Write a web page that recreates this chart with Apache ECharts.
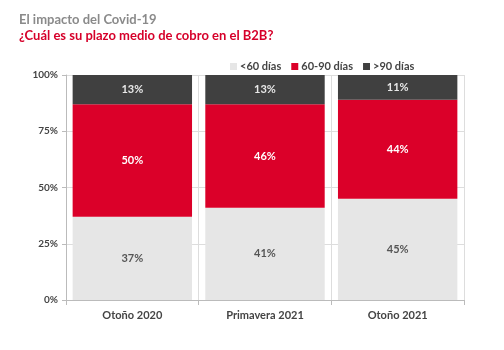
<!DOCTYPE html>
<html>
<head>
<meta charset="utf-8">
<script src="https://cdn.jsdelivr.net/npm/echarts@6/dist/echarts.min.js"></script>
<style>
  html, body { margin: 0; padding: 0; background: #fff; }
  #chart { width: 504px; height: 350px; }
</style>
</head>
<body>
<div id="chart"></div>
<script>
var categories = ['Otoño 2020', 'Primavera 2021', 'Otoño 2021'];
var seriesNames = ['<60 días', '60-90 días', '>90 días'];
var under60 = [37, 41, 45];
var from60to90 = [50, 46, 44];
var over90 = [13, 13, 11];
var yTicks = ['0%', '25%', '50%', '75%', '100%'];

var colors = ['#e6e6e6', '#db0029', '#404040'];
var labelColors = ['#555', '#fff', '#e8e8e8'];
var font = 'Lato, "Open Sans", sans-serif';

var chart = echarts.init(document.getElementById('chart'));

function makeSeries(name, data, i) {
  return {
    name: name,
    type: 'bar',
    stack: 'total',
    barWidth: '90%',
    data: data,
    itemStyle: { color: colors[i] },
    label: {
      show: true,
      position: 'inside',
      formatter: '{c}%',
      color: labelColors[i],
      fontFamily: font,
      fontWeight: 'bold',
      fontSize: 11
    }
  };
}

chart.setOption({
  animation: false,
  color: colors,
  title: [{
    text: 'El impacto del Covid-19',
    left: 14,
    top: 8,
    textStyle: { color: '#8a8a8a', fontFamily: font, fontWeight: 'bold', fontSize: 13 }
  }, {
    text: '¿Cuál es su plazo medio de cobro en el B2B?',
    left: 14,
    top: 24,
    textStyle: { color: '#d6002a', fontFamily: font, fontWeight: 'bold', fontSize: 13 }
  }],
  legend: {
    top: 56,
    left: 225,
    itemWidth: 7,
    itemHeight: 7,
    itemGap: 10,
    icon: 'rect',
    textStyle: { color: '#444', fontFamily: font, fontWeight: 'bold', fontSize: 11, padding: [0, 0, 0, -2] },
    data: seriesNames
  },
  grid: { left: 66, right: 40, top: 75, bottom: 50 },
  xAxis: {
    type: 'category',
    data: categories,
    axisLine: { lineStyle: { color: '#bbb' } },
    axisTick: { show: true, length: 5, lineStyle: { color: '#bbb' } },
    axisLabel: { color: '#444', fontFamily: font, fontWeight: 'bold', fontSize: 11, margin: 10 },
    splitLine: { show: true, lineStyle: { color: '#ddd' } }
  },
  yAxis: {
    type: 'value',
    min: 0,
    max: 100,
    interval: 25,
    axisLine: { show: true, lineStyle: { color: '#bbb' } },
    axisTick: { show: true, length: 4, lineStyle: { color: '#bbb' } },
    axisLabel: {
      color: '#444', fontFamily: font, fontWeight: 'bold', fontSize: 10, margin: 8,
      formatter: function (v) { return yTicks[v / 25]; }
    },
    splitLine: { show: true, lineStyle: { color: '#ddd' } }
  },
  series: [
    makeSeries(seriesNames[0], under60, 0),
    makeSeries(seriesNames[1], from60to90, 1),
    makeSeries(seriesNames[2], over90, 2)
  ]
});
</script>
</body>
</html>
